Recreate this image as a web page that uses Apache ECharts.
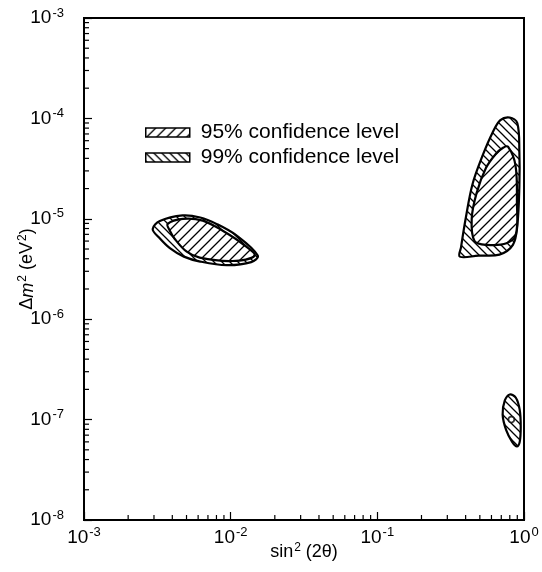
<!DOCTYPE html>
<html><head><meta charset="utf-8">
<script src="https://cdn.jsdelivr.net/npm/echarts@6/dist/echarts.min.js"></script>
<style>html,body{margin:0;padding:0;background:#fff}#c{width:542px;height:572px}</style>
</head><body><div id="c"></div>
<script>
// ---- data (sin^2(2θ), Δm^2 in eV^2) ----
const xRange = [1e-3, 1];
const yRange = [1e-8, 1e-3];
const minorMantissas = [2,3,4,5,6,7,8,9];
const xDecades = [1e-3, 1e-2, 1e-1];
const yDecades = [1e-8, 1e-7, 1e-6, 1e-5, 1e-4];

// 99% confidence level contours
const cl99Left = [[0.00294,7.9e-6],[0.00329,9.5e-6],[0.0047,1.08e-5],[0.0062,1.03e-5],[0.0080,8.9e-6],[0.0110,6.8e-6],[0.0153,4.3e-6],[0.0138,3.7e-6],[0.0094,3.45e-6],[0.0062,3.75e-6],[0.0048,4.2e-6],[0.00385,5.1e-6],[0.00325,6.5e-6]];
const cl99Right = [[0.80,1.02e-4],[0.90,9.0e-5],[0.93,4.6e-5],[0.93,2.14e-5],[0.90,8.5e-6],[0.84,5.5e-6],[0.68,4.4e-6],[0.49,4.3e-6],[0.365,4.2e-6],[0.372,5.2e-6],[0.40,1.0e-5],[0.445,2.2e-5],[0.52,4.2e-5],[0.61,7.2e-5],[0.69,9.6e-5]];
const cl99Low = [[0.80,1.78e-7],[0.88,1.65e-7],[0.935,1.25e-7],[0.95,8.5e-8],[0.935,6.0e-8],[0.895,5.4e-8],[0.83,6.0e-8],[0.755,7.9e-8],[0.715,1.12e-7],[0.74,1.55e-7]];
// 95% confidence level contours
const cl95Left = [[0.00372,8.9e-6],[0.00471,1.0e-5],[0.00645,9.6e-6],[0.00883,7.6e-6],[0.0121,5.6e-6],[0.01455,4.3e-6],[0.0103,3.8e-6],[0.00615,4.1e-6],[0.00502,4.7e-6],[0.00416,6.3e-6],[0.00385,7.6e-6]];
const cl95Right = [[0.78,5.2e-5],[0.875,3.4e-5],[0.895,1.45e-5],[0.88,7.0e-6],[0.76,5.7e-6],[0.56,5.5e-6],[0.46,6.0e-6],[0.44,1.0e-5],[0.475,1.8e-5],[0.55,3.2e-5],[0.64,4.4e-5],[0.72,5.1e-5]];
// best fit point
const bestFit = [[0.82, 1.0e-7]];

const legendNames = ['95% confidence level', '99% confidence level'];

// ---- styling helpers ----
function hatch(dir, s, bg) {
  const c = document.createElement('canvas');
  c.width = s; c.height = s;
  const g = c.getContext('2d');
  if (bg) { g.fillStyle = bg; g.fillRect(0, 0, s, s); }
  g.strokeStyle = '#000'; g.lineWidth = 1.3;
  g.beginPath();
  if (dir === '/') {
    g.moveTo(0, s); g.lineTo(s, 0);
    g.moveTo(-2, 2); g.lineTo(2, -2);
    g.moveTo(s - 2, s + 2); g.lineTo(s + 2, s - 2);
  } else {
    g.moveTo(0, 0); g.lineTo(s, s);
    g.moveTo(-2, s - 2); g.lineTo(2, s + 2);
    g.moveTo(s - 2, -2); g.lineTo(s + 2, 2);
  }
  g.stroke();
  return { image: c, repeat: 'repeat' };
}
const hatch95 = hatch('/', 10, '#fff');
const hatch99 = hatch('\\', 8, '#fff');

const FONT = 'Liberation Sans, Arial, sans-serif';
const polys99 = [cl99Left, cl99Right, cl99Low];
const polys95 = [cl95Left, cl95Right];

function polySeries(name, polys, fill, z) {
  return {
    type: 'custom', name: name, z: z,
    coordinateSystem: 'cartesian2d',
    encode: { x: 0, y: 1 },
    data: polys.map(p => p[0]),
    itemStyle: { color: fill, borderColor: '#000' },
    renderItem: function (params, api) {
      const pts = polys[params.dataIndex].map(p => api.coord(p));
      return { type: 'polygon', shape: { points: pts, smooth: 0.35 },
               style: { fill: fill, stroke: '#000', lineWidth: 2.2 } };
    }
  };
}

const xMinor = [], yMinor = [];
xDecades.forEach(d => minorMantissas.forEach(m => xMinor.push([m * d, yRange[0]])));
yDecades.forEach(d => minorMantissas.forEach(m => yMinor.push([xRange[0], m * d])));

function tickSeries(data, vertical) {
  return {
    type: 'custom', silent: true, z: 5, clip: false,
    coordinateSystem: 'cartesian2d', encode: { x: 0, y: 1 },
    data: data,
    renderItem: function (params, api) {
      const p = api.coord([api.value(0), api.value(1)]);
      const q = vertical ? [p[0], p[1] - 5] : [p[0] + 5, p[1]];
      return { type: 'line', shape: { x1: p[0], y1: p[1], x2: q[0], y2: q[1] },
               style: { stroke: '#000', lineWidth: 1.2 } };
    }
  };
}

function powLabel(v) {
  const e = Math.round(Math.log10(v));
  return '{a|10}{e|' + e + '}';
}
const labelRich = {
  a: { fontSize: 19, fontFamily: FONT, color: '#000' },
  e: { fontSize: 13, fontFamily: FONT, color: '#000', verticalAlign: 'bottom', padding: [0, 0, 10, 1] }
};

const chart = echarts.init(document.getElementById('c'), null, { renderer: 'canvas' });
chart.setOption({
  animation: false,
  backgroundColor: '#fff',
  grid: { left: 84, right: 18, top: 18, bottom: 52, outerBoundsMode: 'none', containLabel: false,
          show: true, borderColor: '#000', borderWidth: 2, backgroundColor: 'transparent' },
  legend: {
    left: 140, top: 117, orient: 'vertical', itemWidth: 44, itemHeight: 9, itemGap: 4,
    icon: 'rect',
    textStyle: { fontSize: 21, fontFamily: FONT, color: '#000', padding: [0, 0, 0, 6] },
    data: [
      { name: legendNames[0], itemStyle: { color: hatch95, borderColor: '#000', borderWidth: 1.5 } },
      { name: legendNames[1], itemStyle: { color: hatch99, borderColor: '#000', borderWidth: 1.5 } }
    ]
  },
  xAxis: {
    type: 'log', logBase: 10, min: xRange[0], max: xRange[1],
    name: '{a|sin}{s|2}{a| (2θ)}', nameLocation: 'middle', nameGap: 22, nameMoveOverlap: false,
    nameTextStyle: { rich: {
      a: { fontSize: 18, fontFamily: FONT, color: '#000' },
      s: { fontSize: 12, fontFamily: FONT, color: '#000', verticalAlign: 'bottom', padding: [0, 0, 9, 1] } } },
    axisLine: { show: true, lineStyle: { color: '#000', width: 2 } },
    axisTick: { show: true, inside: true, length: 8, lineStyle: { color: '#000', width: 1.2 } },
    axisLabel: { formatter: powLabel, rich: labelRich, margin: 6 },
    splitLine: { show: false }
  },
  yAxis: {
    type: 'log', logBase: 10, min: yRange[0], max: yRange[1],
    name: '{a|Δ}{i|m}{s|2}{a| (eV}{s|2}{a|)}', nameLocation: 'middle', nameGap: 46, nameRotate: 90, nameMoveOverlap: false,
    nameTextStyle: { rich: {
      a: { fontSize: 18, fontFamily: FONT, color: '#000' },
      i: { fontSize: 18, fontFamily: FONT, color: '#000', fontStyle: 'italic' },
      s: { fontSize: 12, fontFamily: FONT, color: '#000', verticalAlign: 'bottom', padding: [0, 0, 9, 1] } } },
    axisLine: { show: true, lineStyle: { color: '#000', width: 2 } },
    axisTick: { show: true, inside: true, length: 8, lineStyle: { color: '#000', width: 1.2 } },
    axisLabel: { formatter: powLabel, rich: labelRich, margin: 20 },
    splitLine: { show: false }
  },
  series: [
    polySeries(legendNames[1], polys99, hatch99, 2),
    polySeries(legendNames[0], polys95, hatch95, 3),
    { type: 'scatter', z: 4, data: bestFit, symbol: 'circle', symbolSize: 6,
      itemStyle: { color: '#fff', borderColor: '#000', borderWidth: 1.8 } },
    tickSeries(xMinor, true),
    tickSeries(yMinor, false)
  ]
});
</script></body></html>
